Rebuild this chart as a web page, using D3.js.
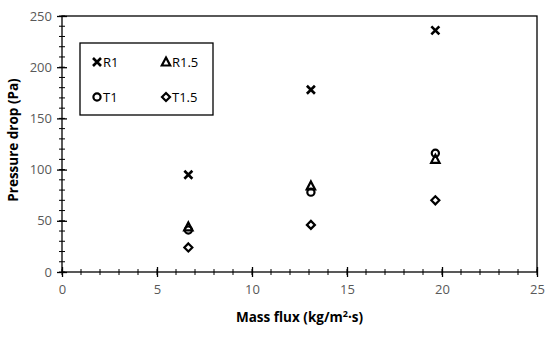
<!DOCTYPE html>
<meta charset="utf-8">
<script src="https://d3js.org/d3.v7.min.js"></script>
<style>
  body { margin: 0; background: #fff; }
  text { font-family: "Open Sans", "Liberation Sans", sans-serif; }
</style>
<body>
<div id="my_dataviz"></div>
<script>
// data
var massFlux = [6.65, 13.1, 19.65];
var R1   = [95, 178, 236];
var R15  = [44, 84, 110];
var T1   = [41, 78, 116];
var T15  = [24, 46, 70];

var xTicks = [0, 5, 10, 15, 20, 25];
var yTicks = [0, 50, 100, 150, 200, 250];

var series = [
  {name: "R1",   values: R1,  shape: "cross"},
  {name: "R1.5", values: R15, shape: "triangle"},
  {name: "T1",   values: T1,  shape: "circle"},
  {name: "T1.5", values: T15, shape: "diamond"}
];

var margin = {top: 16, right: 13, bottom: 65, left: 62},
    width = 550 - margin.left - margin.right,
    height = 337 - margin.top - margin.bottom;

var svg = d3.select("#my_dataviz")
  .append("svg")
    .attr("width", 550)
    .attr("height", 337)
  .append("g")
    .attr("transform", "translate(" + margin.left + "," + margin.top + ")");

var x = d3.scaleLinear().domain([0, 25]).range([0, width]);
var y = d3.scaleLinear().domain([0, 250]).range([height, 0]);

// frame
svg.append("rect")
  .attr("x", 0).attr("y", 0)
  .attr("width", width).attr("height", height)
  .attr("fill", "none").attr("stroke", "#000").attr("stroke-width", 1.3);

// minor ticks (crossing)
svg.append("g").selectAll("line")
  .data(d3.range(0, 26, 1))
  .join("line")
    .attr("x1", d => x(d)).attr("x2", d => x(d))
    .attr("y1", height - 3).attr("y2", height + 3)
    .attr("stroke", "#000").attr("stroke-width", 1);
svg.append("g").selectAll("line")
  .data(d3.range(0, 251, 10))
  .join("line")
    .attr("y1", d => y(d)).attr("y2", d => y(d))
    .attr("x1", -3).attr("x2", 3)
    .attr("stroke", "#000").attr("stroke-width", 1);

// axes
var xAxis = svg.append("g")
  .attr("transform", "translate(0," + height + ")")
  .call(d3.axisBottom(x).tickValues(xTicks).tickSize(0).tickPadding(13));
xAxis.select(".domain").remove();
xAxis.selectAll("text").style("font-size", "13px").attr("fill", "#595959");
xAxis.selectAll(".tick").append("line")
  .attr("y1", -5).attr("y2", 5).attr("stroke", "#000").attr("stroke-width", 1.3);

var yAxis = svg.append("g")
  .call(d3.axisLeft(y).tickValues(yTicks).tickSize(0).tickPadding(10));
yAxis.select(".domain").remove();
yAxis.selectAll("text").style("font-size", "13px").attr("fill", "#595959");
yAxis.selectAll(".tick").append("line")
  .attr("x1", -5).attr("x2", 5).attr("stroke", "#000").attr("stroke-width", 1.3);

// axis titles
var xt = svg.append("text")
  .attr("x", width / 2)
  .attr("y", height + 50)
  .attr("text-anchor", "middle")
  .style("font-size", "13.5px")
  .style("font-weight", "bold")
  .attr("fill", "#000");
xt.append("tspan").text("Mass flux (kg/m");
xt.append("tspan").text("2").attr("dy", -5).style("font-size", "9px");
xt.append("tspan").text("\u00b7s)").attr("dy", 5);

svg.append("text")
  .attr("transform", "rotate(-90)")
  .attr("x", -height / 2 + 4)
  .attr("y", -44)
  .attr("text-anchor", "middle")
  .style("font-size", "13.5px")
  .style("font-weight", "bold")
  .text("Pressure drop (Pa)");

// marker drawing
function drawMarker(g, shape) {
  if (shape === "cross") {
    g.append("path").attr("d", "M-4,-4L4,4M-4,4L4,-4")
      .attr("stroke", "#000").attr("stroke-width", 2.6).attr("fill", "none");
  } else if (shape === "triangle") {
    g.append("path").attr("d", "M0,-4.5L4.2,3.5L-4.2,3.5Z")
      .attr("stroke", "#000").attr("stroke-width", 2.2).attr("fill", "none");
  } else if (shape === "circle") {
    g.append("circle").attr("r", 3.6)
      .attr("stroke", "#000").attr("stroke-width", 2.2).attr("fill", "none");
  } else {
    g.append("path").attr("d", "M0,-4L4,0L0,4L-4,0Z")
      .attr("stroke", "#000").attr("stroke-width", 2.2).attr("fill", "none");
  }
}

series.forEach(function(s) {
  s.values.forEach(function(v, i) {
    var g = svg.append("g")
      .attr("transform", "translate(" + x(massFlux[i]) + "," + y(v) + ")");
    drawMarker(g, s.shape);
  });
});

// legend
var leg = svg.append("g").attr("transform", "translate(18,27)");
leg.append("rect")
  .attr("width", 133).attr("height", 72)
  .attr("fill", "#fff").attr("stroke", "#000").attr("stroke-width", 1.3);
var legPos = [[17, 19], [86, 19], [17, 54], [86, 54]];
series.forEach(function(s, i) {
  var g = leg.append("g").attr("transform", "translate(" + legPos[i][0] + "," + legPos[i][1] + ")");
  drawMarker(g, s.shape);
  g.append("text").attr("x", 6).attr("y", 5)
    .style("font-size", "13px").attr("fill", "#000").text(s.name);
});
</script>
</body>
